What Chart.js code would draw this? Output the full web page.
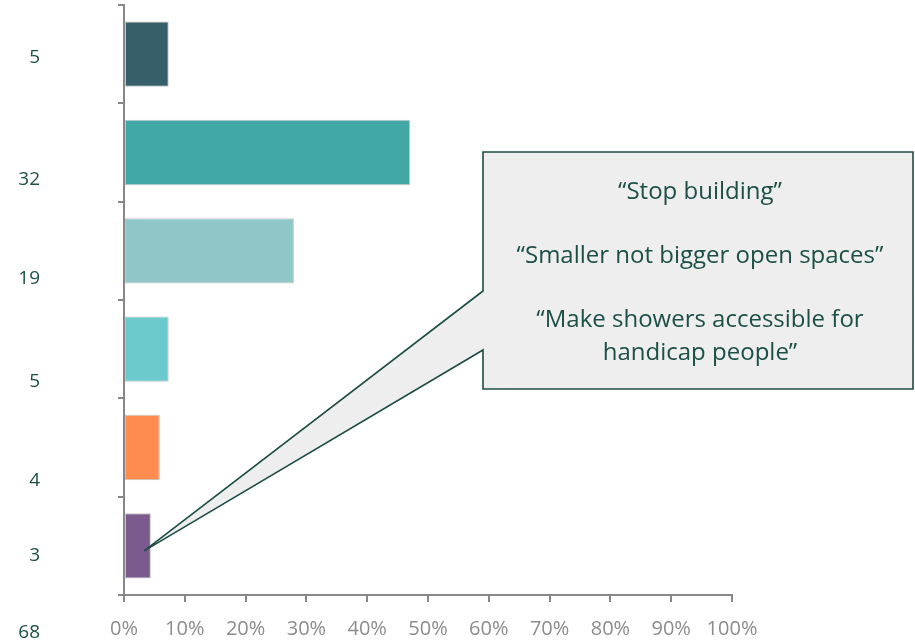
<!DOCTYPE html>
<html>
<head>
<meta charset="utf-8">
<script src="https://cdn.jsdelivr.net/npm/chart.js@4"></script>
<style>
  html, body { margin: 0; padding: 0; background: #ffffff; }
  #wrap { width: 915px; height: 643px; position: relative; }
</style>
</head>
<body>
<div id="wrap"><canvas id="responses"></canvas></div>
<script>
const categories = ['A', 'B', 'C', 'D', 'E', 'F'];
const counts = [5, 32, 19, 5, 4, 3];
const total = 68;
const barColors = ['#365f6b', '#42a8a6', '#8fc7c8', '#6ccacc', '#fd8c4e', '#7b5b8e'];
const xTicks = [0, 10, 20, 30, 40, 50, 60, 70, 80, 90, 100];
const quotes = [
    ['\u201CStop building\u201D'],
    ['\u201CSmaller not bigger open spaces\u201D'],
    ['\u201CMake showers accessible for', 'handicap people\u201D']
];

const shares = counts.map(c => c / total * 100);

const axisGray = '#878787';
const textGreen = '#1b4f47';

// counts down the left side, plus the total underneath
const countLabels = {
    id: 'countLabels',
    afterDraw(chart) {
        const ctx = chart.ctx;
        const rowsY = [58, 180, 279, 382, 481, 556];
        ctx.save();
        ctx.font = '19px "Open Sans"';
        ctx.fillStyle = textGreen;
        ctx.textAlign = 'right';
        ctx.textBaseline = 'middle';
        counts.forEach((c, i) => ctx.fillText(String(c), 40, rowsY[i]));
        ctx.fillText(String(total), 40, 633);
        ctx.restore();
    }
};

// speech-bubble callout pointing at the last bar
const callout = {
    id: 'callout',
    afterDatasetsDraw(chart) {
        const ctx = chart.ctx;
        const x = chart.scales.x, y = chart.scales.y;
        const tipX = x.getPixelForValue(shares[5] * 0.75);
        const tipY = y.getPixelForValue(5) + 5;
        const left = 483, top = 152, right = 913, bottom = 389;
        ctx.save();
        ctx.beginPath();
        ctx.moveTo(left, top);
        ctx.lineTo(right, top);
        ctx.lineTo(right, bottom);
        ctx.lineTo(left, bottom);
        ctx.lineTo(left, 350);
        ctx.lineTo(tipX, tipY);
        ctx.lineTo(left, 291);
        ctx.closePath();
        ctx.fillStyle = '#eeeeee';
        ctx.fill();
        ctx.lineWidth = 1.6;
        ctx.strokeStyle = '#1e4d45';
        ctx.lineJoin = 'miter';
        ctx.stroke();

        ctx.font = '24px "Open Sans"';
        ctx.fillStyle = textGreen;
        ctx.textAlign = 'center';
        ctx.textBaseline = 'middle';
        const cx = (left + right) / 2 + 2;
        const lineY = [[192], [256], [320, 353]];
        quotes.forEach((q, i) => q.forEach((t, j) => ctx.fillText(t, cx, lineY[i][j])));
        ctx.restore();
    }
};

new Chart(document.getElementById('responses'), {
    type: 'bar',
    data: {
        labels: categories,
        datasets: [{
            data: shares,
            backgroundColor: barColors,
            borderColor: 'rgba(150,150,150,0.55)',
            borderWidth: 1,
            borderSkipped: false,
            categoryPercentage: 1,
            barPercentage: 0.665
        }]
    },
    options: {
        indexAxis: 'y',
        responsive: true,
        maintainAspectRatio: false,
        animation: false,
        layout: { padding: { top: 5, right: 183, left: 0, bottom: 0 } },
        scales: {
            x: {
                min: 0,
                max: 100,
                afterBuildTicks: s => { s.ticks = xTicks.map(v => ({ value: v })); },
                afterFit: s => { s.height = 48; },
                ticks: {
                    callback: v => v + '%',
                    color: '#8c8c8c',
                    font: { family: 'Open Sans', size: 20 },
                    padding: 15,
                    maxRotation: 0,
                    autoSkip: false
                },
                grid: { drawOnChartArea: false, drawTicks: true, tickLength: 7, color: axisGray, lineWidth: 2 },
                border: { display: true, color: axisGray, width: 2 }
            },
            y: {
                offset: true,
                afterFit: s => { s.width = 124; },
                ticks: { display: false },
                grid: { offset: true, drawOnChartArea: false, drawTicks: true, tickLength: 6, color: axisGray, lineWidth: 2 },
                border: { display: true, color: axisGray, width: 2 }
            }
        },
        plugins: {
            legend: { display: false },
            tooltip: { enabled: false }
        }
    },
    plugins: [countLabels, callout]
});
</script>
</body>
</html>
